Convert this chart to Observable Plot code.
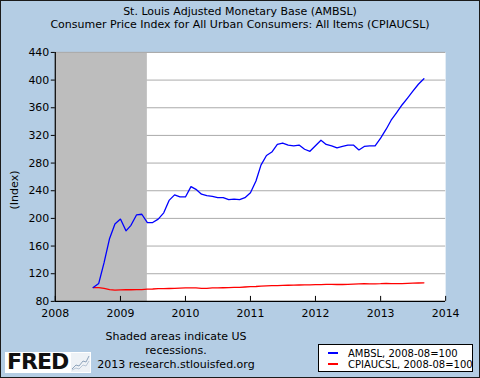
<!DOCTYPE html>
<html>
<head>
<meta charset="utf-8">
<script src="https://cdn.jsdelivr.net/npm/d3@7"></script>
<script src="https://cdn.jsdelivr.net/npm/@observablehq/plot@0.6"></script>
<style>
  html, body { margin: 0; padding: 0; background: #b4cde4; }
  #wrap { position: relative; width: 480px; height: 378px; box-sizing: border-box; border: 1px solid #1a1a1a; background: #b4cde4; font-family: "DejaVu Sans", Verdana, sans-serif; color: #000; overflow: hidden; }
  .abs { position: absolute; }
  #title { left: 0; top: 4px; width: 478px; text-align: center; font-size: 11px; line-height: 13px; }
  #ylab { left: 13px; top: 189px; font-size: 11px; transform: translate(-50%, -50%) rotate(-90deg); white-space: nowrap; }
  #note { left: 75px; top: 329px; width: 200px; text-align: center; font-size: 11px; line-height: 14px; }
  #legend { left: 317px; top: 343px; width: 155px; height: 28px; background: #fff; border: 1px solid #000; box-sizing: border-box; font-size: 10px; }
  .lrow { position: absolute; left: 9px; height: 12px; display: flex; align-items: center; white-space: nowrap; }
  .sw { width: 10px; height: 2px; margin-right: 10px; }
  #logo { left: 4px; top: 351px; width: 86px; height: 21px; background: #fff; }
  #fred { position: absolute; left: 2px; top: -3px; font: bold 22px "DejaVu Sans", sans-serif; letter-spacing: -1px; color: #111; }
  #plotbox { left: 0; top: 35px; }
</style>
</head>
<body>
<div id="wrap">
  <div id="title" class="abs">St. Louis Adjusted Monetary Base (AMBSL)<br>Consumer Price Index for All Urban Consumers: All Items (CPIAUCSL)</div>
  <div id="plotbox" class="abs"></div>
  <div id="ylab" class="abs">(Index)</div>
  <div id="note" class="abs">Shaded areas indicate US<br>recessions.<br>2013 research.stlouisfed.org</div>
  <div id="logo" class="abs"><span id="fred">FRED</span>
    <svg style="position:absolute;left:66px;top:1px" width="19" height="19" viewBox="0 0 19 19">
      <rect x="0" y="0" width="19" height="19" fill="#eef2f6"/>
      <polyline points="1,16 5,12 8,13 12,8 15,9 18,3" fill="none" stroke="#8da3bb" stroke-width="1"/>
      <polyline points="1,17 5,15 8,16 12,12 15,13 18,8" fill="none" stroke="#b8c6d6" stroke-width="1"/>
    </svg>
  </div>
  <div id="legend" class="abs">
    <div class="lrow" style="top:2px"><div class="sw" style="background:#0000ff"></div><span id="l1"></span></div>
    <div class="lrow" style="top:13px"><div class="sw" style="background:#ff0000"></div><span id="l2"></span></div>
  </div>
</div>
<script>
// ---- data ----
const seriesNames = ["AMBSL, 2008-08=100", "CPIAUCSL, 2008-08=100"];
const seriesColors = ["#0000ff", "#ff0000"];
const firstMonth = new Date(2008, 7, 1);   // 2008-08
const ambsl = [100,106,136,171,192,
  199,182,190,205,206,194,194,199,208,226,234,231,
  231,246,242,235,233,232,230,230,227,228,227,230,
  237,254,277,291,296,307,309,306,305,306,300,297,
  305,313,307,305,302,304,306,306,299,304,305,305,
  316,329,342,353,364,374,384,394,402];
const cpi = [100,99.9,98.7,97.0,96.3,
  96.6,96.9,96.8,97.0,97.1,97.8,97.9,98.3,98.4,98.6,98.9,99.3,
  99.5,99.4,99.4,98.9,98.8,99.5,99.6,99.7,99.8,100.2,100.3,100.8,
  101.2,101.5,102.2,102.5,102.8,102.8,103.0,103.3,103.6,103.7,103.9,103.9,
  104.1,104.3,104.6,104.6,104.4,104.4,104.5,105.0,105.4,105.6,105.3,105.3,
  105.6,106.1,105.8,105.6,105.7,106.0,106.3,106.6,106.8];
const recessionStart = [new Date(2007, 11, 1)];
const recessionEnd = [new Date(2009, 5, 1)];
const xTicks = [2008, 2009, 2010, 2011, 2012, 2013, 2014].map(y => new Date(y, 0, 1));
const yTicks = [80, 120, 160, 200, 240, 280, 320, 360, 400, 440];

// ---- build ----
const months = ambsl.map((_, i) => d3.timeMonth.offset(firstMonth, i));
const rows = months.map((d, i) => ({date: d, ambsl: ambsl[i], cpi: cpi[i]}));
const xDomain = [xTicks[0], xTicks[xTicks.length - 1]];
const yDomain = [yTicks[0], yTicks[yTicks.length - 1]];
const recessions = recessionStart.map((s, i) => ({start: s, end: recessionEnd[i]}));

const W = 480, H = 290, mt = 16, mb = 24, ml = 54, mr = 34;
const innerH = H - mt - mb;

const chart = Plot.plot({
  width: W, height: H,
  marginTop: mt, marginBottom: mb, marginLeft: ml, marginRight: mr,
  style: {background: "transparent", fontFamily: "DejaVu Sans, Verdana, sans-serif", fontSize: "11px", color: "#000"},
  x: {type: "time", domain: xDomain},
  y: {domain: yDomain},
  marks: [
    Plot.frame({fill: "white", stroke: "none"}),
    Plot.ruleY(yTicks.slice(1), {stroke: "#aaaaaa", strokeWidth: 1, strokeOpacity: 1}),
    Plot.rect(recessions, {x1: d => (d.start < xDomain[0] ? xDomain[0] : d.start), x2: "end", y1: yDomain[0], y2: yDomain[1], fill: "#bdbdbd"}),
    Plot.ruleY([yDomain[1]], {stroke: "#aaaaaa"}),
    Plot.lineY(rows, {x: "date", y: "cpi", stroke: seriesColors[1], strokeWidth: 1.3}),
    Plot.lineY(rows, {x: "date", y: "ambsl", stroke: seriesColors[0], strokeWidth: 1.3}),
    Plot.ruleX([xDomain[0]], {stroke: "#000", strokeWidth: 1.2}),
    Plot.ruleY([yDomain[0]], {stroke: "#000", strokeWidth: 1.2}),
    Plot.tickX(xTicks, {x: d => d, stroke: "#000", insetTop: innerH - 5}),
    Plot.axisY({ticks: yTicks, tickSize: 4, tickPadding: 2, label: null, stroke: "#000"}),
    Plot.axisX({ticks: xTicks, tickSize: 0, tickPadding: 8, tickFormat: d3.timeFormat("%Y"), label: null})
  ]
});
document.getElementById("plotbox").appendChild(chart);
document.getElementById("l1").textContent = seriesNames[0];
document.getElementById("l2").textContent = seriesNames[1];
</script>
</body>
</html>
